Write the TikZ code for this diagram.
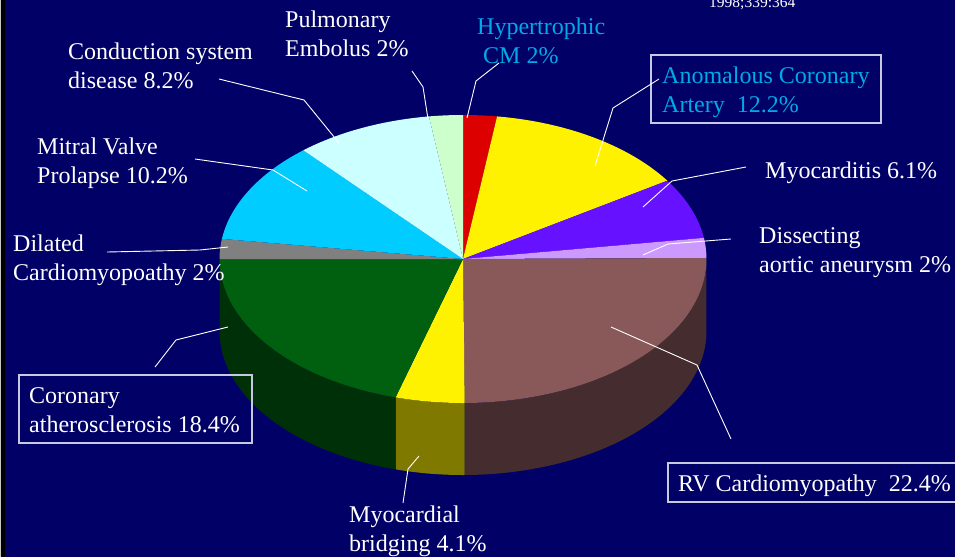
\documentclass[tikz,border=0pt]{standalone}
\usepackage{fontspec}
\setmainfont{Liberation Serif}
\usetikzlibrary{fit}
\definecolor{bg}{RGB}{0,0,102}
\definecolor{cred}{RGB}{221,0,0}
\definecolor{cyel}{RGB}{255,242,0}
\definecolor{cpur}{RGB}{102,17,255}
\definecolor{cvio}{RGB}{204,153,255}
\definecolor{cbrn}{RGB}{137,88,88}
\definecolor{cbrnd}{RGB}{69,44,46}
\definecolor{cyeld}{RGB}{128,121,0}
\definecolor{cgrn}{RGB}{0,96,16}
\definecolor{cgrnd}{RGB}{0,48,8}
\definecolor{cgry}{RGB}{128,128,128}
\definecolor{ccyn}{RGB}{0,204,255}
\definecolor{clcy}{RGB}{204,255,255}
\definecolor{clgr}{RGB}{204,255,204}
\definecolor{ctxt}{RGB}{0,170,230}
\definecolor{cbox}{RGB}{200,200,225}
\definecolor{cedge}{RGB}{200,200,200}
\newcommand\pieslice[3]{\fill[#3] (pc) -- plot[domain=#1:#2,samples=90] ({463+243.5*cos(\x)},{259-144*sin(\x)}) -- cycle;}
\newcommand\pieside[3]{\fill[#3] plot[domain=#1:#2,samples=90] ({463+243.5*cos(\x)},{259-144*sin(\x)}) -- plot[domain=#2:#1,samples=90] ({463+243.5*cos(\x)},{331-144*sin(\x)}) -- cycle;}
\tikzset{
  lbl/.style={inner sep=0pt, anchor=base west, align=left, text=white, font=\fontsize{24}{29}\selectfont},
  clbl/.style={lbl, text=ctxt},
  leader/.style={draw=white, line width=0.9pt},
  frame/.style={draw=cbox, line width=1.1pt, inner sep=0pt}
}
\begin{document}
\begin{tikzpicture}[x=1pt,y=-1pt]
\useasboundingbox (0,0) rectangle (955,557);
\fill[bg] (0,0) rectangle (955,557);
\fill[cedge] (0,0) rectangle (1.2,557);
\fill[black] (1.2,0) rectangle (5,557);
\coordinate (pc) at (463,259);
% sides
\pieside{0.4}{-89.6}{cbrnd}
\pieside{-89.6}{-106.07}{cyeld}
\pieside{-106.07}{-180}{cgrnd}
% top
\pieslice{90}{81.96}{cred}
\pieslice{81.96}{32.95}{cyel}
\pieslice{32.95}{8.44}{cpur}
\pieslice{8.44}{0.4}{cvio}
\pieslice{0.4}{-89.6}{cbrn}
\pieslice{-89.6}{-106.07}{cyel}
\pieslice{-106.07}{-180}{cgrn}
\pieslice{180}{171.96}{cgry}
\pieslice{171.96}{130.98}{ccyn}
\pieslice{130.98}{98.04}{clcy}
\pieslice{98.04}{90}{clgr}
% labels (base anchor = baseline of last line)
\node[lbl, font=\fontsize{15.5}{18}\selectfont] (date) at (709,7) {1998;339:364};
\node[lbl] (pulm) at (285,56) {Pulmonary\\Embolus 2\%};
\node[clbl] (hyp) at (477,63) {Hypertrophic\\\hspace*{6pt}CM 2\%};
\node[clbl] (anom) at (662,112) {Anomalous Coronary\\Artery\ \ 12.2\%};
\node[lbl] (myo) at (765,178) {Myocarditis 6.1\%};
\node[lbl] (diss) at (759,272) {Dissecting\\aortic aneurysm 2\%};
\node[lbl] (rv) at (678,491) {RV Cardiomyopathy\ \ 22.4\%};
\node[lbl] (brid) at (349,551) {Myocardial\\bridging 4.1\%};
\node[lbl] (coron) at (29,432) {Coronary\\atherosclerosis 18.4\%};
\node[lbl] (dil) at (13,280) {Dilated\\Cardiomyopoathy 2\%};
\node[lbl] (mitral) at (37,183) {Mitral Valve\\Prolapse 10.2\%};
\node[lbl] (cond) at (68,88) {Conduction system\\disease 8.2\%};
% boxes
\coordinate (ab1) at (651,55); \coordinate (ab2) at (881,123);
\node[frame, fit=(ab1)(ab2)] (anombox) {};
\coordinate (rb1) at (668,463); \coordinate (rb2) at (962,502);
\node[frame, fit=(rb1)(rb2)] (rvbox) {};
\coordinate (cb1) at (19,375); \coordinate (cb2) at (252,443);
\node[frame, fit=(cb1)(cb2)] (coronbox) {};
% leader lines
\coordinate (p1) at (412,71); \coordinate (p2) at (423,87); \coordinate (p3) at (428,119);
\draw[leader] (p1) -- (p2) -- (p3);
\coordinate (h1) at (499,63); \coordinate (h2) at (476,81); \coordinate (h3) at (467,118);
\draw[leader] (h1) -- (h2) -- (h3);
\coordinate (a1) at (659,79); \coordinate (a2) at (613,108); \coordinate (a3) at (595,166);
\draw[leader] (a1) -- (a2) -- (a3);
\coordinate (m1) at (746,167); \coordinate (m2) at (672,181); \coordinate (m3) at (643,207);
\draw[leader] (m1) -- (m2) -- (m3);
\coordinate (d1) at (731,239); \coordinate (d2) at (668,244); \coordinate (d3) at (643,255);
\draw[leader] (d1) -- (d2) -- (d3);
\coordinate (r1) at (731,439); \coordinate (r2) at (697,365); \coordinate (r3) at (611,327);
\draw[leader] (r1) -- (r2) -- (r3);
\coordinate (b1) at (403,503); \coordinate (b2) at (408,469); \coordinate (b3) at (419,456);
\draw[leader] (b1) -- (b2) -- (b3);
\coordinate (c1) at (155,367); \coordinate (c2) at (176,340); \coordinate (c3) at (228,327);
\draw[leader] (c1) -- (c2) -- (c3);
\coordinate (l1) at (107,252); \coordinate (l2) at (200,250); \coordinate (l3) at (228,247);
\draw[leader] (l1) -- (l2) -- (l3);
\coordinate (v1) at (195,159); \coordinate (v2) at (273,170); \coordinate (v3) at (307,191);
\draw[leader] (v1) -- (v2) -- (v3);
\coordinate (s1) at (219,79); \coordinate (s2) at (304,100); \coordinate (s3) at (339,143);
\draw[leader] (s1) -- (s2) -- (s3);
\end{tikzpicture}
\end{document}
